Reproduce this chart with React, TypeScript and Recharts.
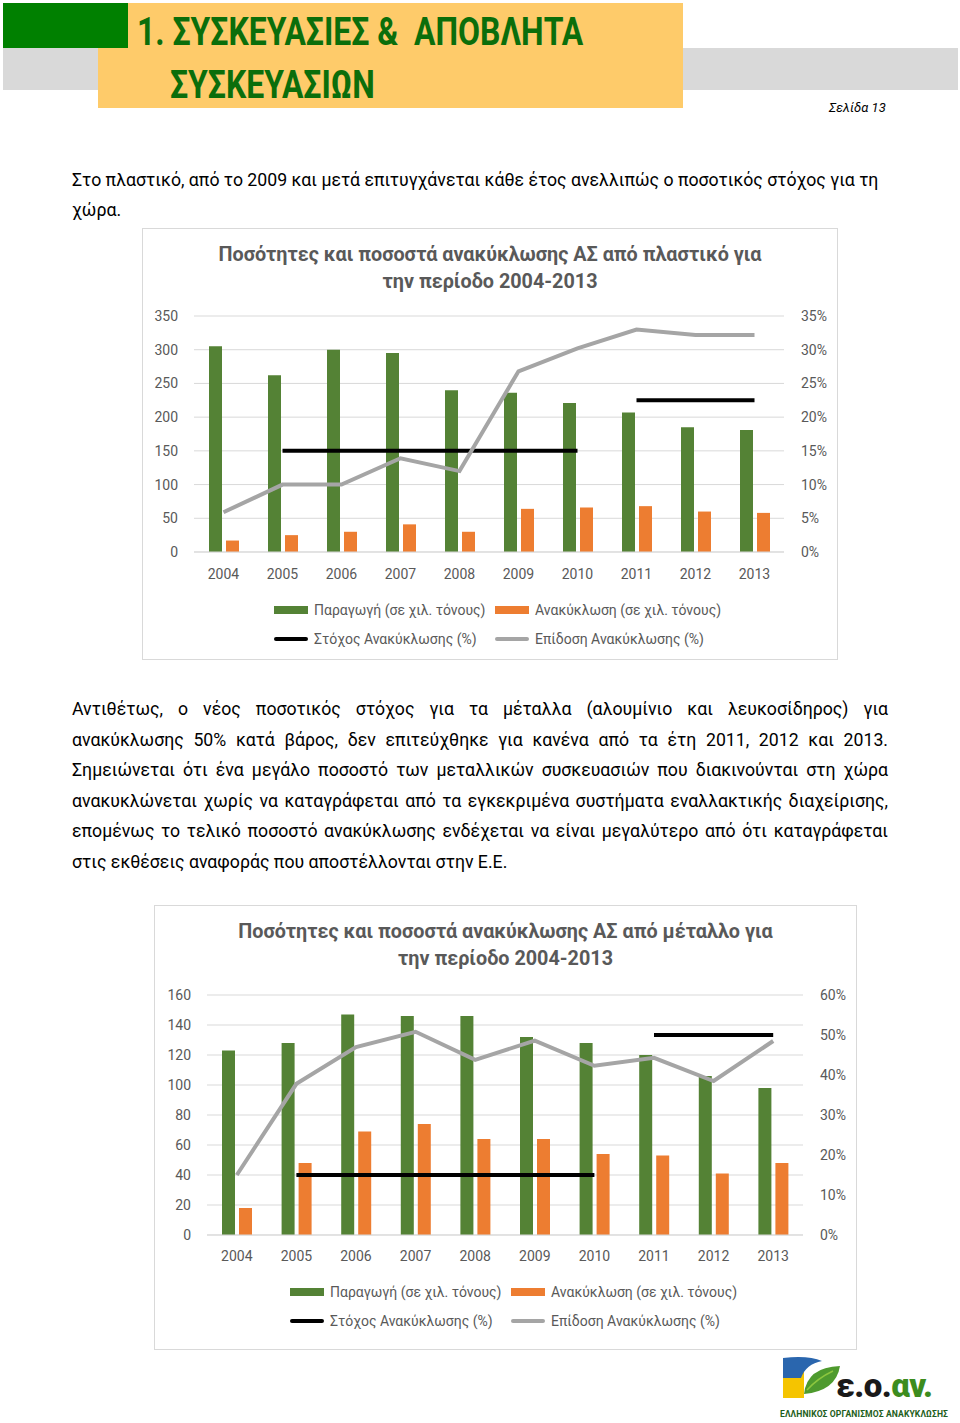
import React from 'react';
import { ComposedChart, Bar, Line, XAxis, YAxis, CartesianGrid } from 'recharts';

const years = ['2004', '2005', '2006', '2007', '2008', '2009', '2010', '2011', '2012', '2013'];

const plasticProduction = [305, 262, 300, 295, 240, 236, 221, 207, 185, 181];
const plasticRecycling = [17, 25, 30, 41, 30, 64, 66, 68, 60, 58];
const plasticTargetEarly = [null, 15, 15, 15, 15, 15, 15, null, null, null];
const plasticTargetLate = [null, null, null, null, null, null, null, 22.5, 22.5, 22.5];
const plasticPerformance = [5.9, 10, 10, 13.9, 12, 26.8, 30.2, 33, 32.2, 32.2];
const plasticLeftTicks = [0, 50, 100, 150, 200, 250, 300, 350];
const plasticRightTicks = [0, 5, 10, 15, 20, 25, 30, 35];

const metalProduction = [123, 128, 147, 146, 146, 132, 128, 120, 106, 98];
const metalRecycling = [18, 48, 69, 74, 64, 64, 54, 53, 41, 48];
const metalTargetEarly = [null, 15, 15, 15, 15, 15, 15, null, null, null];
const metalTargetLate = [null, null, null, null, null, null, null, 50, 50, 50];
const metalPerformance = [15, 37.8, 47, 50.8, 43.8, 48.6, 42.3, 44.3, 38.5, 48.5];
const metalLeftTicks = [0, 20, 40, 60, 80, 100, 120, 140, 160];
const metalRightTicks = [0, 10, 20, 30, 40, 50, 60];

const legendLabels = {
  production: 'Παραγωγή (σε χιλ. τόνους)',
  recycling: 'Ανακύκλωση (σε χιλ. τόνους)',
  target: 'Στόχος Ανακύκλωσης (%)',
  performance: 'Επίδοση Ανακύκλωσης (%)',
};

const GREEN = '#548235';
const ORANGE = '#ED7D31';
const GRAY_LINE = '#A5A5A5';
const TEXT_GRAY = '#595959';
const GRID = '#D9D9D9';
const FONT = 'Roboto, "Open Sans", sans-serif';

function buildData(prod: number[], rec: number[], tA: (number | null)[], tB: (number | null)[], perf: number[]) {
  return years.map((y, i) => ({
    year: y,
    production: prod[i],
    recycling: rec[i],
    targetA: tA[i],
    targetB: tB[i],
    performance: perf[i],
  }));
}

type PanelProps = {
  box: { left: number; top: number; width: number; height: number };
  marginTop: number;
  marginBottom: number;
  leftW: number;
  rightW: number;
  titleLines: string[];
  titleTop: number;
  data: any[];
  leftTicks: number[];
  rightTicks: number[];
  legendTop: number;
  legendCol1: number;
  legendCol2: number;
  tickMarginX: number;
};

function LegendSwatch({ kind, color }: { kind: 'rect' | 'line'; color: string }) {
  return (
    <svg width={34} height={12} style={{ display: 'block' }}>
      {kind === 'rect' ? (
        <rect x={0} y={2} width={34} height={8} fill={color} />
      ) : (
        <line x1={2} y1={6} x2={32} y2={6} stroke={color} strokeWidth={4} strokeLinecap="round" />
      )}
    </svg>
  );
}

function LegendItem({ left, top, kind, color, label }: any) {
  return (
    <div style={{ position: 'absolute', left, top, display: 'flex', alignItems: 'center', height: 20 }}>
      <LegendSwatch kind={kind} color={color} />
      <span style={{ marginLeft: 6, fontSize: 14, color: TEXT_GRAY, fontFamily: FONT, whiteSpace: 'nowrap' }}>{label}</span>
    </div>
  );
}

function ChartPanel(p: PanelProps) {
  const { box } = p;
  const tickStyle = { fill: TEXT_GRAY, fontSize: 14, fontFamily: FONT };
  return (
    <div style={{ position: 'absolute', left: box.left, top: box.top, width: box.width, height: box.height, background: '#fff' }}>
      <div style={{ position: 'absolute', left: 0, top: 0, width: box.width, height: box.height, border: `1px solid ${GRID}`, boxSizing: 'border-box' }} />
      <div style={{ position: 'absolute', left: 0, top: p.titleTop, width: box.width, textAlign: 'center', fontFamily: FONT, fontWeight: 700, fontSize: 19.8, lineHeight: '27px', color: TEXT_GRAY }}>
        {p.titleLines.map((t, i) => (
          <div key={i}>{t}</div>
        ))}
      </div>
      <div style={{ position: 'absolute', left: 0, top: 0 }}>
        <ComposedChart
          width={box.width}
          height={box.height}
          data={p.data}
          margin={{ top: p.marginTop, right: 0, bottom: p.marginBottom, left: 0 }}
          barGap={4}
          barSize={13}
        >
          <CartesianGrid vertical={false} stroke={GRID} yAxisId="left" />
          <XAxis
            dataKey="year"
            tickLine={false}
            axisLine={{ stroke: GRID }}
            tick={tickStyle}
            tickSize={0}
            tickMargin={p.tickMarginX}
            height={30}
            interval={0}
          />
          <YAxis
            yAxisId="left"
            domain={[0, p.leftTicks[p.leftTicks.length - 1]]}
            ticks={p.leftTicks}
            width={p.leftW}
            tickSize={0}
            tickMargin={16}
            axisLine={false}
            tickLine={false}
            tick={tickStyle}
            interval={0}
          />
          <YAxis
            yAxisId="right"
            orientation="right"
            domain={[0, p.rightTicks[p.rightTicks.length - 1]]}
            ticks={p.rightTicks}
            width={p.rightW}
            tickSize={0}
            tickMargin={17}
            axisLine={false}
            tickLine={false}
            tick={{ ...tickStyle, textAnchor: 'start' }}
            tickFormatter={(v: number) => `${v}%`}
            interval={0}
          />
          <Bar yAxisId="left" dataKey="production" fill={GREEN} isAnimationActive={false} />
          <Bar yAxisId="left" dataKey="recycling" fill={ORANGE} isAnimationActive={false} />
          <Line yAxisId="right" dataKey="targetA" stroke="#000" strokeWidth={4} dot={false} activeDot={false} isAnimationActive={false} />
          <Line yAxisId="right" dataKey="targetB" stroke="#000" strokeWidth={4} dot={false} activeDot={false} isAnimationActive={false} />
          <Line yAxisId="right" dataKey="performance" stroke={GRAY_LINE} strokeWidth={4} dot={false} activeDot={false} isAnimationActive={false} />
        </ComposedChart>
      </div>
      <LegendItem left={p.legendCol1} top={p.legendTop} kind="rect" color={GREEN} label={legendLabels.production} />
      <LegendItem left={p.legendCol2} top={p.legendTop} kind="rect" color={ORANGE} label={legendLabels.recycling} />
      <LegendItem left={p.legendCol1} top={p.legendTop + 29} kind="line" color="#000" label={legendLabels.target} />
      <LegendItem left={p.legendCol2} top={p.legendTop + 29} kind="line" color={GRAY_LINE} label={legendLabels.performance} />
    </div>
  );
}

const para2Lines = [
  'Αντιθέτως, ο νέος ποσοτικός στόχος για τα μέταλλα (αλουμίνιο και λευκοσίδηρος) για',
  'ανακύκλωσης 50% κατά βάρος, δεν επιτεύχθηκε για κανένα από τα έτη 2011, 2012 και 2013.',
  'Σημειώνεται ότι ένα μεγάλο ποσοστό των μεταλλικών συσκευασιών που διακινούνται στη χώρα',
  'ανακυκλώνεται χωρίς να καταγράφεται από τα εγκεκριμένα συστήματα εναλλακτικής διαχείρισης,',
  'επομένως το τελικό ποσοστό ανακύκλωσης ενδέχεται να είναι μεγαλύτερο από ότι καταγράφεται',
  'στις εκθέσεις αναφοράς που αποστέλλονται στην Ε.Ε.',
];

function Logo() {
  return (
    <div style={{ position: 'absolute', left: 778, top: 1354, width: 176, height: 68 }}>
      <svg width={176} height={68} style={{ position: 'absolute', left: 0, top: 0 }}>
        <path d="M5 14 L26 14 L26 44 L5 44 Z" fill="#F5C400" />
        <path d="M26 40 Q29 13 62 12 Q58 37 26 40 Z" fill="#4E9A2E" />
        <path d="M29 36 Q40 24 55 17" stroke="#8CC63F" strokeWidth={1.5} fill="none" />
        <path d="M5 4 Q30 1 44 7 Q28 10 23 24 L5 24 Z" fill="#2A66AE" />
      </svg>
      <div style={{ position: 'absolute', left: 58, top: 14, fontFamily: FONT, fontWeight: 900, fontSize: 33, lineHeight: '36px', letterSpacing: -0.5 }}>
        <span style={{ color: '#1a1a1a' }}>ε.ο.</span>
        <span style={{ color: '#3C8C1E' }}>αν.</span>
      </div>
      <div style={{ position: 'absolute', left: 2, top: 55, fontFamily: FONT, fontWeight: 700, fontSize: 8.6, color: '#1E5E20', whiteSpace: 'nowrap', letterSpacing: 0.1 }}>
        ΕΛΛΗΝΙΚΟΣ ΟΡΓΑΝΙΣΜΟΣ ΑΝΑΚΥΚΛΩΣΗΣ
      </div>
    </div>
  );
}

export default function App() {
  const plasticData = buildData(plasticProduction, plasticRecycling, plasticTargetEarly, plasticTargetLate, plasticPerformance);
  const metalData = buildData(metalProduction, metalRecycling, metalTargetEarly, metalTargetLate, metalPerformance);
  const bodyText = { fontFamily: FONT, fontSize: 17.7, color: '#000', lineHeight: '24px' } as React.CSSProperties;
  const headStyle = { position: 'absolute', fontFamily: FONT, fontWeight: 700, fontSize: 38, lineHeight: '40px', color: '#0B6E0B', whiteSpace: 'pre', transform: 'scaleX(0.84)', transformOrigin: 'left top' } as React.CSSProperties;
  return (
    <div style={{ position: 'absolute', left: 0, top: 0, width: 960, height: 1423, background: '#fff', overflow: 'hidden' }}>
      {/* Header */}
      <div style={{ position: 'absolute', left: 3, top: 48, width: 955, height: 42, background: '#D9D9D9' }} />
      <div style={{ position: 'absolute', left: 98, top: 3, width: 585, height: 105, background: '#FECB6A' }} />
      <div style={{ position: 'absolute', left: 3, top: 3, width: 125, height: 45, background: '#008000' }} />
      <div style={{ ...headStyle, left: 137, top: 12 }}>{'1. ΣΥΣΚΕΥΑΣΙΕΣ &  ΑΠΟΒΛΗΤΑ'}</div>
      <div style={{ ...headStyle, left: 170, top: 65 }}>ΣΥΣΚΕΥΑΣΙΩΝ</div>
      <div style={{ position: 'absolute', left: 829, top: 100, fontFamily: FONT, fontStyle: 'italic', fontSize: 13, color: '#000', lineHeight: '16px' }}>
        Σελίδα 13
      </div>

      {/* Paragraph 1 */}
      <div style={{ ...bodyText, position: 'absolute', left: 72, top: 168, whiteSpace: 'nowrap' }}>
        Στο πλαστικό, από το 2009 και μετά επιτυγχάνεται κάθε έτος ανελλιπώς ο ποσοτικός στόχος για τη
      </div>
      <div style={{ ...bodyText, position: 'absolute', left: 72, top: 198, whiteSpace: 'nowrap' }}>χώρα.</div>

      <ChartPanel
        box={{ left: 142, top: 228, width: 696, height: 432 }}
        marginTop={88}
        marginBottom={78}
        leftW={52}
        rightW={54}
        titleLines={['Ποσότητες και ποσοστά ανακύκλωσης ΑΣ από πλαστικό για', 'την περίοδο 2004-2013']}
        titleTop={13}
        data={plasticData}
        leftTicks={plasticLeftTicks}
        rightTicks={plasticRightTicks}
        legendTop={372}
        legendCol1={132}
        legendCol2={353}
        tickMarginX={17}
      />

      {/* Paragraph 2 */}
      {para2Lines.map((line, i) => (
        <div
          key={i}
          style={{
            ...bodyText,
            position: 'absolute',
            left: 72,
            top: 697 + i * 30.5,
            width: 816,
            textAlign: i === para2Lines.length - 1 ? 'left' : 'justify',
            textAlignLast: i === para2Lines.length - 1 ? 'left' : 'justify',
            whiteSpace: 'nowrap',
          }}
        >
          {line}
        </div>
      ))}

      <ChartPanel
        box={{ left: 154, top: 905, width: 703, height: 445 }}
        marginTop={90}
        marginBottom={85}
        leftW={53}
        rightW={54}
        titleLines={['Ποσότητες και ποσοστά ανακύκλωσης ΑΣ από μέταλλο για', 'την περίοδο 2004-2013']}
        titleTop={13}
        data={metalData}
        leftTicks={metalLeftTicks}
        rightTicks={metalRightTicks}
        legendTop={377}
        legendCol1={136}
        legendCol2={357}
        tickMarginX={16}
      />

      <Logo />
    </div>
  );
}
